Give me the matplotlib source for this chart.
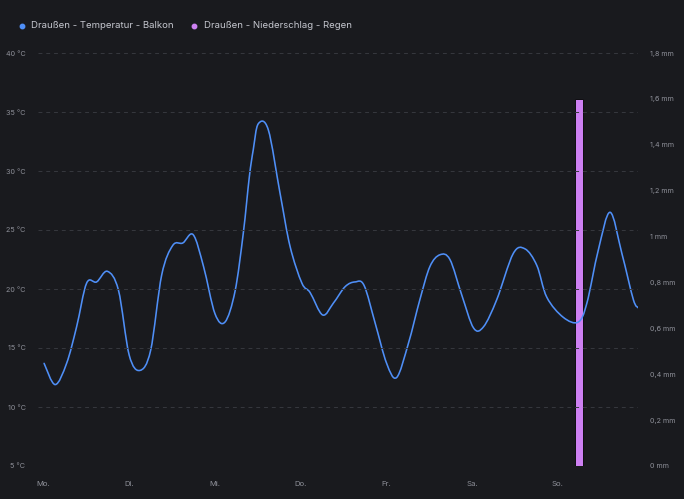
import matplotlib.pyplot as plt
from matplotlib.lines import Line2D
from matplotlib.path import Path
from matplotlib.patches import PathPatch

# Temperature readings (hours since Monday 00:00, °C)
hours = [0.3, 3.4, 6.6, 9.4, 12.2, 15.0, 18.0, 21.1, 24.1, 27.1, 30.1, 33.2,
         36.3, 39.1, 42.0, 44.9, 48.1, 50.9, 53.7, 56.0, 57.7, 58.8, 60.2, 63.0,
         66.3, 69.1, 72.4, 74.7, 78.2, 81.2, 84.5, 87.3, 89.8, 92.9, 96.1, 98.9,
         102.2, 105.4, 108.2, 111.0, 113.8, 117.1, 120.4, 123.2, 126.9, 131.5,
         134.8, 138.1, 140.9, 145.5, 149.7, 152.1, 155.3, 158.6, 161.9, 165.1, 166.5]
temps = [13.7, 11.9, 13.7, 16.8, 20.5, 20.6, 21.5, 19.9, 14.4, 13.1, 14.8, 21.2,
         23.7, 23.9, 24.6, 21.9, 17.9, 17.2, 19.8, 24.7, 29.5, 31.8, 34.0, 33.5,
         28.1, 23.6, 20.5, 19.7, 17.8, 18.8, 20.2, 20.6, 20.3, 17.1, 13.7, 12.5,
         15.4, 19.1, 21.9, 22.9, 22.5, 19.5, 16.7, 16.8, 19.1, 23.0, 23.4, 22.0,
         19.3, 17.6, 17.2, 18.8, 23.3, 26.5, 23.0, 19.1, 18.4]

# Rain (hours since Monday 00:00, mm)
rain_hours = [149.9]
rain_mm = [1.6]

day_labels = ["Mo.", "Di.", "Mi.", "Do.", "Fr.", "Sa.", "So."]
temp_ticks = [5, 10, 15, 20, 25, 30, 35, 40]
rain_ticks = [0, 0.2, 0.4, 0.6, 0.8, 1.0, 1.2, 1.4, 1.6, 1.8]

bg = "#191a1e"
txt = "#8e9099"
blue = "#4f8ff7"
purple = "#cd80f2"
plt.rcParams["font.family"] = ["Inter", "DejaVu Sans"]


# smooth curve through the readings (like the dashboard's "smooth" line)
def smooth_path(xs, ys):
    pts = list(zip(xs, ys))
    verts = [pts[0]]
    codes = [Path.MOVETO]
    n = len(pts)
    for i in range(n - 1):
        p0 = pts[max(i - 1, 0)]
        p1 = pts[i]
        p2 = pts[i + 1]
        p3 = pts[min(i + 2, n - 1)]
        c1 = (p1[0] + (p2[0] - p0[0]) / 6, p1[1] + (p2[1] - p0[1]) / 6)
        c2 = (p2[0] - (p3[0] - p1[0]) / 6, p2[1] - (p3[1] - p1[1]) / 6)
        verts += [c1, c2, p2]
        codes += [Path.CURVE4] * 3
    return Path(verts, codes)


fig = plt.figure(figsize=(6.84, 4.99), dpi=100, facecolor=bg)
ax = fig.add_axes([38 / 684, 33 / 499, 600 / 684, 413 / 499])
ax2 = ax.twinx()
ax2.set_facecolor(bg)
ax.set_zorder(ax2.get_zorder() + 1)
ax.patch.set_visible(False)

# rain bar on right axis
ax2.bar(rain_hours, rain_mm, width=2.2, color=purple, edgecolor="#0d0d10",
        linewidth=0.7)
ax2.set_ylim(0, 1.8)
ax2.set_yticks(rain_ticks)
ax2.set_yticklabels([f"{v:g}".replace(".", ",") + " mm" for v in rain_ticks])

# temperature line
ax.add_patch(PathPatch(smooth_path(hours, temps), facecolor="none",
                       edgecolor=blue, linewidth=1.15, joinstyle="round",
                       capstyle="round"))
ax.set_ylim(5, 40)
ax.set_xlim(-1.4, 166.4)
ax.set_yticks(temp_ticks)
ax.set_yticklabels([f"{t} °C" for t in temp_ticks])
ax.set_xticks([24 * i for i in range(7)])
ax.set_xticklabels(day_labels)
ax.grid(axis="y", color="#36383e", linestyle=(0, (4, 4)), linewidth=0.7)

for a in (ax, ax2):
    for s in a.spines.values():
        s.set_visible(False)
    a.tick_params(length=0, colors=txt, labelsize=5.2)
ax.tick_params(axis="y", pad=9)
ax.tick_params(axis="x", pad=11, labelsize=5.6)
ax2.tick_params(axis="y", pad=9)

# legend
fig.add_artist(Line2D([22 / 684], [1 - 26 / 499], marker="o", markersize=3.2,
                      color=blue, transform=fig.transFigure))
fig.text(31 / 684, 1 - 26 / 499, "Draußen - Temperatur - Balkon", color="#c5c7cf",
         fontsize=6.9, va="center")
fig.add_artist(Line2D([194 / 684], [1 - 26 / 499], marker="o", markersize=3.2,
                      color=purple, transform=fig.transFigure))
fig.text(204 / 684, 1 - 26 / 499, "Draußen - Niederschlag - Regen", color="#c5c7cf",
         fontsize=6.9, va="center")

fig.savefig("out.png", facecolor=bg)
